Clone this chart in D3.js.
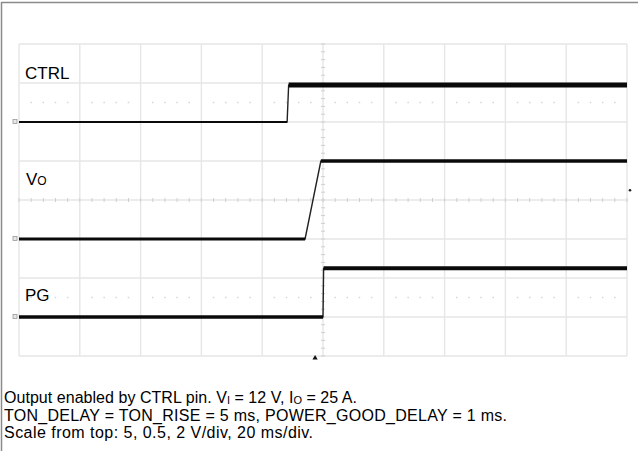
<!DOCTYPE html>
<html>
<head>
<meta charset="utf-8">
<script src="https://cdn.jsdelivr.net/npm/d3@7"></script>
<style>
  html, body { margin: 0; padding: 0; background: #fff; }
  svg { display: block; font-family: Arial, "Liberation Sans", sans-serif; }
</style>
</head>
<body>
<svg id="scope" width="638" height="451"></svg>
<script>
// Time base: 20 ms/div, 10 divisions, trigger at centre
const timeDomain = [-100, 100];          // ms
const divisionsX = 10;
const divisionsY = 8;

// Channel names, scales (V/div) and ground offsets (div from centre)
const channelNames   = ["CTRL", "VO", "PG"];
const channelScales  = [5, 0.5, 2];
const channelOffsets = [2, -1, -3];

// Captured waveforms: time (ms) and level (V)
const ctrlTime  = [-100, -11.8, -11.3, 100];
const ctrlVolts = [0, 0, 4.75, 4.75];
const voTime    = [-100, -5.9, -0.7, 100];
const voVolts   = [0, 0, 1.0, 1.0];
const pgTime    = [-100, 0, 0.2, 100];
const pgVolts   = [0, 0, 2.5, 2.5];

// Caption lines
const captionLines = [
  [["Output enabled by CTRL pin. V", null], ["I", "sub"], [" = 12 V, I", null], ["O", "sub"], [" = 25 A.", null]],
  [["TON_DELAY = TON_RISE = 5 ms, POWER_GOOD_DELAY = 1 ms.", null]],
  [["Scale from top: 5, 0.5, 2 V/div, 20 ms/div.", null]]
];
const captionWidths = [353, 503, 309];

const svg = d3.select("#scope");
const W = 638, H = 451;
const plot = { left: 19, right: 627, top: 44, bottom: 356 };

const x = d3.scaleLinear().domain(timeDomain).range([plot.left, plot.right]);
const yDiv = d3.scaleLinear().domain([-divisionsY / 2, divisionsY / 2]).range([plot.bottom, plot.top]);
const divW = (plot.right - plot.left) / divisionsX;
const divH = (plot.bottom - plot.top) / divisionsY;

// Frame (left and top edges)
svg.append("line").attr("x1", 1.5).attr("x2", 1.5).attr("y1", 2).attr("y2", H)
  .attr("stroke", "#8a8a8a").attr("stroke-width", 1.5);
svg.append("line").attr("x1", 1.5).attr("x2", W).attr("y1", 2.5).attr("y2", 2.5)
  .attr("stroke", "#8a8a8a").attr("stroke-width", 1.5);

// Graticule
const grid = svg.append("g").attr("stroke", "#e6e6e6").attr("stroke-width", 1.4);
d3.range(divisionsX + 1).forEach(i => {
  const gx = plot.left + i * divW;
  grid.append("line").attr("x1", gx).attr("x2", gx).attr("y1", plot.top).attr("y2", plot.bottom);
});
d3.range(divisionsY + 1).forEach(j => {
  const gy = plot.top + j * divH;
  grid.append("line").attr("x1", plot.left).attr("x2", plot.right).attr("y1", gy).attr("y2", gy);
});

// Minor ticks on the centre axes
const cx = x(0), cy = yDiv(0);
const ticks = svg.append("g").attr("stroke", "#cfcfcf").attr("stroke-width", 1);
d3.range(divisionsY * 5 + 1).forEach(k => {
  const ty = plot.top + k * divH / 5;
  ticks.append("line").attr("x1", cx - 2).attr("x2", cx + 2).attr("y1", ty).attr("y2", ty);
});
d3.range(divisionsX * 5 + 1).forEach(k => {
  const tx = plot.left + k * divW / 5;
  ticks.append("line").attr("x1", tx).attr("x2", tx).attr("y1", cy - 2).attr("y2", cy + 2);
});

// Dotted reference rows
const dots = svg.append("g").attr("fill", "#d6d6d6");
[2.5, -2.5].forEach(d => {
  const ry = yDiv(d);
  d3.range(divisionsX * 5 + 1).forEach(k => {
    if (k % 5 === 0) return;
    dots.append("rect").attr("x", plot.left + k * divW / 5 - 0.75).attr("y", ry - 0.75)
      .attr("width", 1.5).attr("height", 1.5);
  });
});

// Waveforms
const traces = [
  { t: ctrlTime, v: ctrlVolts, lo: 2, hi: 5 },
  { t: voTime,   v: voVolts,   lo: 3.2, hi: 3.6 },
  { t: pgTime,   v: pgVolts,   lo: 3.4, hi: 4 }
];
const traceG = svg.append("g");
traces.forEach((tr, c) => {
  const yv = v => yDiv(channelOffsets[c] + v / channelScales[c]);
  const pts = tr.t.map((t, i) => [x(t), yv(tr.v[i])]);
  traceG.append("path")
    .attr("d", d3.line()(pts))
    .attr("fill", "none").attr("stroke", "#222").attr("stroke-width", 1.4)
    .attr("stroke-linejoin", "round");
  // flat segments carry the acquisition noise band
  for (let i = 0; i < pts.length - 1; i++) {
    if (tr.v[i] === tr.v[i + 1]) {
      traceG.append("line")
        .attr("x1", pts[i][0]).attr("x2", pts[i + 1][0])
        .attr("y1", pts[i][1]).attr("y2", pts[i + 1][1])
        .attr("stroke", "#0a0a0a")
        .attr("stroke-width", tr.v[i] === 0 ? tr.lo : tr.hi);
    }
  }
  // ground marker
  svg.append("rect").attr("x", 13).attr("y", yv(0) - 2.5).attr("width", 4).attr("height", 4)
    .attr("fill", "#e8e8e8").attr("stroke", "#9a9a9a").attr("stroke-width", 0.8);
});

// Trigger and level markers
svg.append("path")
  .attr("d", d3.symbol().type(d3.symbolTriangle).size(12)())
  .attr("transform", `translate(${x(-2.6)},${plot.bottom + 2})`)
  .attr("fill", "#111");
svg.append("circle").attr("cx", 630).attr("cy", yDiv(0.25)).attr("r", 1.3).attr("fill", "#222");

// Channel labels
const labels = svg.append("g").attr("fill", "#000").attr("font-size", 17);
labels.append("text").attr("x", 25).attr("y", 79).text(channelNames[0]);
const vo = labels.append("text").attr("x", 26).attr("y", 185);
vo.append("tspan").text("V");
vo.append("tspan").attr("font-size", 12).text("O");
labels.append("text").attr("x", 25).attr("y", 301).text(channelNames[2]);

// Caption
const capSize = 16;
const cap = svg.append("g").attr("fill", "#000").attr("font-size", capSize);
const baselines = [403, 420.5, 438];
captionLines.forEach((line, i) => {
  const t = cap.append("text").attr("x", 4).attr("y", baselines[i])
    .attr("textLength", captionWidths[i]).attr("lengthAdjust", "spacing");
  line.forEach(([s, kind], j) => {
    const sp = t.append("tspan").text(s);
    if (kind === "sub") sp.attr("font-size", 11).attr("dy", 1);
    else if (j > 0) sp.attr("dy", -1);
  });
});
</script>
</body>
</html>
